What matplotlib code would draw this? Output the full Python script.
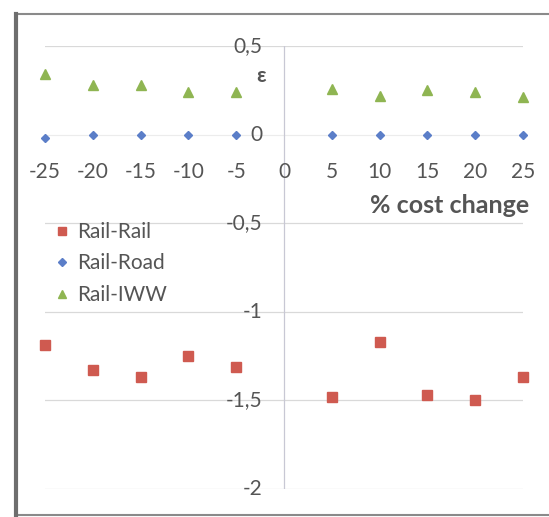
import matplotlib
matplotlib.use("Agg")
import matplotlib.pyplot as plt
from matplotlib.patches import Rectangle

# % cost change on the x axis
cost_change = [-25, -20, -15, -10, -5, 5, 10, 15, 20, 25]

# elasticities
rail_rail = [-1.19, -1.33, -1.37, -1.25, -1.31, -1.48, -1.17, -1.47, -1.50, -1.37]
rail_road = [-0.02, 0.00, 0.00, 0.00, 0.00, 0.00, 0.00, 0.00, 0.00, 0.00]
rail_iww = [0.34, 0.28, 0.28, 0.24, 0.24, 0.26, 0.22, 0.25, 0.24, 0.21]

y_ticks = [0.5, 0.0, -0.5, -1.0, -1.5, -2.0]
y_tick_labels = ["0,5", "0", "-0,5", "-1", "-1,5", "-2"]
x_tick_labels = ["-25", "-20", "-15", "-10", "-5", "0", "5", "10", "15", "20", "25"]

plt.rcParams["font.family"] = ["Lato", "DejaVu Sans"]
text_col = "#555555"

W, H = 549, 517
fig = plt.figure(figsize=(W / 100, H / 100), dpi=100)
fig.patch.set_facecolor("white")

# screenshot frame
fig.add_artist(Rectangle((16 / W, 2 / H), 1.2, (H - 16) / H, transform=fig.transFigure,
                         fill=False, edgecolor="#8a8a8a", lw=1.5))
fig.add_artist(plt.Line2D([16 / W, 16 / W], [2 / H, (H - 14) / H], transform=fig.transFigure,
                          color="#6e6e6e", lw=3))

ax = fig.add_axes([45 / W, 1 - 489 / H, 478 / W, 443 / H])
ax.set_xlim(-25, 25)
ax.set_ylim(-2, 0.5)
for s in ax.spines.values():
    s.set_visible(False)
ax.set_xticks([])
ax.set_yticks([])

for yv in y_ticks:
    if yv != 0:
        ax.axhline(yv, color="#d9d9d9", lw=0.9, zorder=0)
ax.axhline(0, color="#ececec", lw=0.8, zorder=0)
ax.axvline(0, color="#c8c8d4", lw=0.9, zorder=0)

ax.plot(cost_change, rail_rail, ls="none", marker="s", ms=7, color="#cf5a50",
        label="Rail-Rail", clip_on=False)
ax.plot(cost_change, rail_road, ls="none", marker="D", ms=4.5, color="#5b7ec8",
        label="Rail-Road", clip_on=False)
ax.plot(cost_change, rail_iww, ls="none", marker="^", ms=7, color="#8fb552",
        label="Rail-IWW", clip_on=False)

for yv, lab in zip(y_ticks, y_tick_labels):
    ax.text(-2.3, yv, lab, ha="right", va="center", fontsize=15, color=text_col)
for i, lab in enumerate(x_tick_labels):
    ax.text(-25 + 5 * i, -0.21, lab, ha="center", va="center", fontsize=15, color=text_col)

ax.text(-1.9, 0.33, "ε", ha="right", va="center", fontsize=15, fontweight="bold", color=text_col)
ax.text(25.6, -0.40, "% cost change", ha="right", va="center", fontsize=18,
        fontweight="bold", color=text_col)

leg = ax.legend(loc="upper left", bbox_to_anchor=(-0.025, 0.645), frameon=False,
                fontsize=15, handletextpad=0.2, labelspacing=0.55, handlelength=1.0,
                markerscale=0.8)
for t in leg.get_texts():
    t.set_color(text_col)

fig.savefig("out.png", dpi=100)
